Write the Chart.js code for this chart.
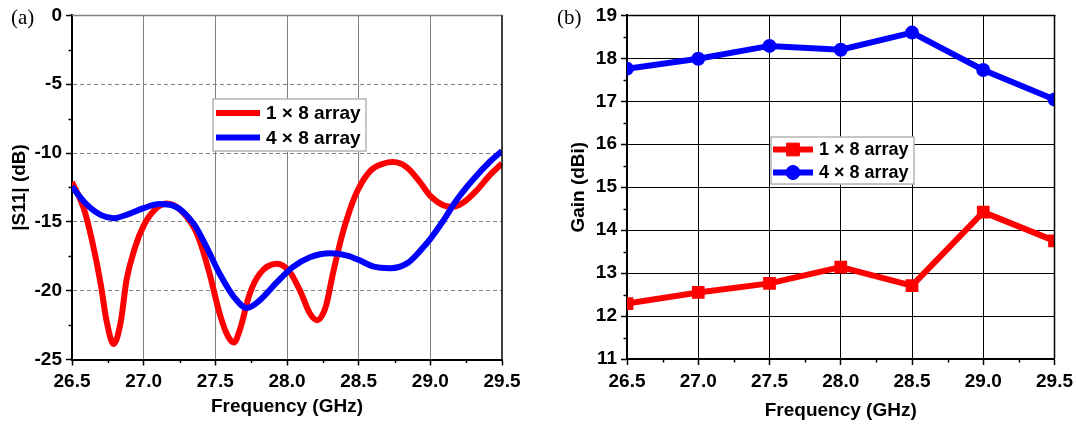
<!DOCTYPE html>
<html>
<head>
<meta charset="utf-8">
<script src="https://cdn.jsdelivr.net/npm/chart.js@4.4.1/dist/chart.umd.min.js"></script>
<style>
  html, body { margin: 0; padding: 0; background: #fff; }
  #wrap { position: relative; width: 1078px; height: 428px; overflow: hidden; }
  .panel { position: absolute; top: 0; height: 428px; }
  #pa { left: 0; width: 540px; }
  #pb { left: 540px; width: 538px; }
</style>
</head>
<body>
<div id="wrap">
  <div class="panel" id="pa"><canvas id="ca" width="540" height="428"></canvas></div>
  <div class="panel" id="pb"><canvas id="cb" width="538" height="428"></canvas></div>
</div>
<script>
// ---- (a) reflection coefficient |S11| versus frequency ----
const s11RedFreq = [26.50, 26.58, 26.64, 26.70, 26.74, 26.79, 26.84, 26.88, 26.94, 27.00,
                    27.07, 27.16, 27.25, 27.35, 27.39, 27.46, 27.53, 27.59, 27.63, 27.67,
                    27.74, 27.81, 27.93, 28.02, 28.09, 28.16, 28.21, 28.27, 28.32, 28.38,
                    28.44, 28.50, 28.58, 28.67, 28.74, 28.84, 28.93, 29.00, 29.09, 29.16,
                    29.23, 29.32, 29.42, 29.50];
const s11Red     = [-12.1, -13.96, -16.36, -19.49, -22.14, -23.88, -22.27, -19.25, -16.85, -15.28,
                    -14.20, -13.67, -14.08, -15.40, -16.36, -18.77, -21.66, -23.35, -23.76, -22.87,
                    -20.22, -18.77, -18.05, -18.65, -19.98, -21.66, -22.14, -21.18, -18.77, -16.13,
                    -14.08, -12.57, -11.31, -10.78, -10.66, -11.07, -12.15, -13.11, -13.79, -13.91,
                    -13.60, -12.75, -11.55, -10.75];

const s11BlueFreq = [26.50, 26.60, 26.70, 26.79, 26.88, 27.00, 27.11, 27.21, 27.35, 27.44,
                     27.53, 27.63, 27.72, 27.81, 27.93, 28.04, 28.16, 28.30, 28.42, 28.51,
                     28.60, 28.72, 28.84, 28.93, 29.00, 29.09, 29.18, 29.30, 29.42, 29.50];
const s11Blue     = [-12.45, -13.71, -14.49, -14.73, -14.49, -14.00, -13.71, -13.84, -15.16, -16.85,
                     -18.77, -20.46, -21.26, -20.70, -19.38, -18.29, -17.57, -17.28, -17.45, -17.81,
                     -18.24, -18.37, -18.00, -17.09, -16.24, -14.92, -13.47, -11.91, -10.58, -9.85];

// ---- (b) realised gain versus frequency ----
const gainFreq = [26.5, 27.0, 27.5, 28.0, 28.5, 29.0, 29.5];
const gainRed  = [12.29, 12.55, 12.76, 13.14, 12.71, 14.42, 13.75];
const gainBlue = [17.76, 17.99, 18.29, 18.20, 18.60, 17.73, 17.04];

const seriesNames = ['1 \u00d7 8 array', '4 \u00d7 8 array'];
const freqTicks = [26.5, 27.0, 27.5, 28.0, 28.5, 29.0, 29.5];

const pairs = (xs, ys) => xs.map((x, i) => ({ x: x, y: ys[i] }));

const SANS = '"Liberation Sans", Arial, sans-serif';
Chart.defaults.color = '#000';
Chart.defaults.font.family = SANS;

// Minor ticks, top/right frame lines and the panel tag
const framePlugin = {
  id: 'frame',
  afterDraw(chart, args, o) {
    const { ctx, chartArea: a, scales } = chart;
    const xs = scales.x, ys = scales.y;
    ctx.save();
    ctx.strokeStyle = '#000';
    ctx.lineWidth = 1.5;
    ctx.beginPath();
    for (let v = xs.min + o.xMinor; v < xs.max; v += 2 * o.xMinor) {
      const px = Math.round(xs.getPixelForValue(v)) + 0.5;
      ctx.moveTo(px, a.bottom); ctx.lineTo(px, a.bottom + o.minorLen);
    }
    for (let v = ys.min + o.yMinor; v < ys.max; v += 2 * o.yMinor) {
      const py = Math.round(ys.getPixelForValue(v)) + 0.5;
      ctx.moveTo(a.left, py); ctx.lineTo(a.left - o.minorLen, py);
    }
    ctx.stroke();
    // top edge
    ctx.strokeStyle = o.topColor;
    ctx.lineWidth = o.topWidth;
    ctx.beginPath();
    ctx.moveTo(a.left, a.top); ctx.lineTo(a.right + 1, a.top);
    ctx.stroke();
    // right edge
    ctx.strokeStyle = o.rightColor;
    ctx.lineWidth = o.rightWidth;
    ctx.beginPath();
    ctx.moveTo(a.right, a.top); ctx.lineTo(a.right, a.bottom);
    ctx.stroke();
    // panel tag
    ctx.fillStyle = '#000';
    ctx.font = '21px "Liberation Serif", "Times New Roman", serif';
    ctx.textBaseline = 'alphabetic';
    ctx.textAlign = 'left';
    ctx.fillText(o.tag, o.tagX, o.tagY);
    ctx.restore();
  }
};

// Boxed legend placed inside the plot area
const boxLegendPlugin = {
  id: 'boxLegend',
  afterDraw(chart, args, o) {
    const ctx = chart.ctx;
    ctx.save();
    ctx.fillStyle = '#fff';
    ctx.fillRect(o.x, o.y, o.w, o.h);
    ctx.strokeStyle = '#b4b4b4';
    ctx.lineWidth = 1.5;
    ctx.strokeRect(o.x, o.y, o.w, o.h);
    chart.data.datasets.forEach((ds, i) => {
      const cy = o.rowY[i];
      ctx.strokeStyle = ds.borderColor;
      ctx.lineWidth = ds.borderWidth;
      ctx.beginPath();
      ctx.moveTo(o.sx0, cy); ctx.lineTo(o.sx1, cy);
      ctx.stroke();
      if (ds.pointRadius > 0) {
        ctx.fillStyle = ds.backgroundColor;
        ctx.strokeStyle = ds.borderColor;
        ctx.lineWidth = 1;
        Chart.helpers.drawPoint(ctx, { pointStyle: ds.pointStyle, radius: ds.pointRadius, borderWidth: 1, rotation: 0 },
          (o.sx0 + o.sx1) / 2, cy);
      }
      ctx.fillStyle = '#000';
      ctx.font = o.font;
      ctx.textBaseline = 'middle';
      ctx.textAlign = 'left';
      ctx.fillText(ds.label, o.tx, cy + 1);
    });
    ctx.restore();
  }
};

const tickFont = { family: SANS, size: 19, weight: 'bold' };
const titleFont = { family: SANS, size: 19, weight: 'bold' };
const fmtFreq = v => Number(v).toFixed(1);

// ---------- chart (a) ----------
new Chart(document.getElementById('ca'), {
  type: 'line',
  data: {
    datasets: [
      { label: seriesNames[0], data: pairs(s11RedFreq, s11Red), borderColor: '#ff0000', backgroundColor: '#ff0000',
        borderWidth: 6, pointRadius: 0, cubicInterpolationMode: 'monotone', order: 1, clip: 0 },
      { label: seriesNames[1], data: pairs(s11BlueFreq, s11Blue), borderColor: '#0000ff', backgroundColor: '#0000ff',
        borderWidth: 6, pointRadius: 0, cubicInterpolationMode: 'monotone', order: 0, clip: 0 }
    ]
  },
  options: {
    responsive: false,
    animation: false,
    devicePixelRatio: 1,
    layout: { padding: { top: 13.5, right: 38, left: 0, bottom: 0 } },
    plugins: {
      legend: { display: false },
      tooltip: { enabled: false },
      frame: { xMinor: 0.25, yMinor: 2.5, minorLen: 3.5, topColor: '#808080', topWidth: 1.5,
               rightColor: '#000', rightWidth: 1.5, tag: '(a)', tagX: 11, tagY: 24 },
      boxLegend: { x: 213, y: 99, w: 153, h: 52, rowY: [113, 137.5], sx0: 216, sx1: 260, tx: 266,
                   font: 'bold 19px ' + SANS }
    },
    scales: {
      x: {
        type: 'linear', min: 26.5, max: 29.5,
        afterBuildTicks: s => { s.ticks = freqTicks.map(v => ({ value: v })); },
        afterFit: s => { s.height = 68.5; },
        ticks: { font: tickFont, padding: 5, maxRotation: 0, autoSkip: false, callback: fmtFreq },
        grid: { color: c => (c.tick && (c.tick.value <= 26.5 || c.tick.value >= 29.5)) ? 'rgba(0,0,0,0)' : '#808080',
                lineWidth: 1, tickLength: 6, tickColor: '#000', tickWidth: 1.5 },
        border: { display: true, color: '#000', width: 2 },
        title: { display: true, text: 'Frequency (GHz)', font: titleFont, padding: { top: 0, bottom: 10 } }
      },
      y: {
        type: 'linear', min: -25, max: 0,
        afterFit: s => { s.width = 72; },
        ticks: { font: tickFont, padding: 4, stepSize: 5 },
        grid: { color: c => (c.tick && (c.tick.value <= -25 || c.tick.value >= 0)) ? 'rgba(0,0,0,0)' : '#808080',
                lineWidth: 1, tickLength: 6, tickColor: '#000', tickWidth: 1.5 },
        border: { display: true, color: '#000', width: 2, dash: [4, 3] },
        title: { display: true, text: '|S11| (dB)', font: titleFont, padding: { top: 8, bottom: 0 } }
      }
    }
  },
  plugins: [framePlugin, boxLegendPlugin]
});

// ---------- chart (b) ----------
new Chart(document.getElementById('cb'), {
  type: 'line',
  data: {
    datasets: [
      { label: seriesNames[0], data: pairs(gainFreq, gainRed), borderColor: '#ff0000', backgroundColor: '#ff0000',
        borderWidth: 6, pointStyle: 'rect', pointRadius: 9, pointBorderWidth: 0, order: 1, clip: 0 },
      { label: seriesNames[1], data: pairs(gainFreq, gainBlue), borderColor: '#0000ff', backgroundColor: '#0000ff',
        borderWidth: 6, pointStyle: 'circle', pointRadius: 7, pointBorderWidth: 0, order: 0, clip: 0 }
    ]
  },
  options: {
    responsive: false,
    animation: false,
    devicePixelRatio: 1,
    layout: { padding: { top: 14, right: 21, left: 0, bottom: 0 } },
    plugins: {
      legend: { display: false },
      tooltip: { enabled: false },
      frame: { xMinor: 0.25, yMinor: 0.5, minorLen: 3.5, topColor: '#000', topWidth: 1.5,
               rightColor: '#000', rightWidth: 1.5, tag: '(b)', tagX: 17, tagY: 24 },
      boxLegend: { x: 231, y: 137, w: 143, h: 47, rowY: [149.5, 172.5], sx0: 233, sx1: 273, tx: 279,
                   font: 'bold 18px ' + SANS }
    },
    scales: {
      x: {
        type: 'linear', min: 26.5, max: 29.5,
        afterBuildTicks: s => { s.ticks = freqTicks.map(v => ({ value: v })); },
        afterFit: s => { s.height = 69; },
        ticks: { font: tickFont, padding: 5, maxRotation: 0, autoSkip: false, callback: fmtFreq },
        grid: { color: c => (c.tick && (c.tick.value <= 26.5 || c.tick.value >= 29.5)) ? 'rgba(0,0,0,0)' : '#000',
                lineWidth: 1, tickLength: 6, tickColor: '#000', tickWidth: 1.5 },
        border: { display: true, color: '#000', width: 2 },
        title: { display: true, text: 'Frequency (GHz)', font: titleFont, padding: { top: 0, bottom: 6 } }
      },
      y: {
        type: 'linear', min: 11, max: 19,
        afterFit: s => { s.width = 87; },
        ticks: { font: tickFont, padding: 4, stepSize: 1 },
        grid: { color: c => (c.tick && (c.tick.value <= 11 || c.tick.value >= 19)) ? 'rgba(0,0,0,0)' : '#000',
                lineWidth: 1, tickLength: 6, tickColor: '#000', tickWidth: 1.5 },
        border: { display: true, color: '#000', width: 2 },
        title: { display: true, text: 'Gain (dBi)', font: titleFont, padding: { top: 27, bottom: 0 } }
      }
    }
  },
  plugins: [framePlugin, boxLegendPlugin]
});
</script>
</body>
</html>
